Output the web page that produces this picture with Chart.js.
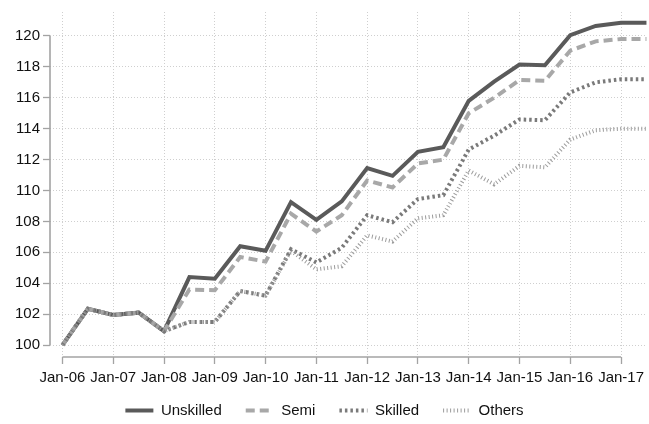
<!DOCTYPE html>
<html>
<head>
<meta charset="utf-8">
<script src="https://cdn.jsdelivr.net/npm/chart.js@4/dist/chart.umd.min.js"></script>
<style>
  html, body { margin: 0; padding: 0; background: #fff; }
  #wrap { width: 649px; height: 424px; position: relative; }
</style>
</head>
<body>
<div id="wrap"><canvas id="c"></canvas></div>
<script>
// Half-yearly observations, Jan-06 ... Jul-17
const periods = ["Jan-06","Jul-06","Jan-07","Jul-07","Jan-08","Jul-08","Jan-09","Jul-09","Jan-10","Jul-10","Jan-11","Jul-11","Jan-12","Jul-12","Jan-13","Jul-13","Jan-14","Jul-14","Jan-15","Jul-15","Jan-16","Jul-16","Jan-17","Jul-17"];
const unskilled = [100, 102.35, 101.95, 102.1, 100.9, 104.4, 104.3, 106.4, 106.1, 109.25, 108.1, 109.3, 111.45, 110.95, 112.5, 112.8, 115.8, 117.05, 118.15, 118.1, 120.05, 120.65, 120.85, 120.85];
const semi      = [100, 102.35, 101.95, 102.1, 100.9, 103.6, 103.55, 105.7, 105.4, 108.5, 107.35, 108.4, 110.65, 110.2, 111.75, 112.0, 115.0, 116.0, 117.15, 117.1, 119.05, 119.65, 119.8, 119.8];
const skilled   = [100, 102.35, 101.95, 102.1, 100.9, 101.5, 101.5, 103.5, 103.2, 106.2, 105.35, 106.3, 108.4, 107.95, 109.45, 109.7, 112.65, 113.55, 114.6, 114.55, 116.35, 117.0, 117.2, 117.2];
const others    = [100, 102.35, 101.95, 102.1, 100.9, 101.5, 101.5, 103.5, 103.2, 106.1, 104.9, 105.1, 107.1, 106.7, 108.2, 108.4, 111.3, 110.4, 111.6, 111.5, 113.3, 113.9, 114.0, 114.0];
const seriesNames = ["Unskilled", "Semi", "Skilled", "Others"];
const xTickLabels = ["Jan-06","Jan-07","Jan-08","Jan-09","Jan-10","Jan-11","Jan-12","Jan-13","Jan-14","Jan-15","Jan-16","Jan-17"];
const yTickValues = [100, 102, 104, 106, 108, 110, 112, 114, 116, 118, 120];

const xTickValues = xTickLabels.map(l => periods.indexOf(l));
const toPts = arr => arr.map((v, i) => ({x: i, y: v}));

const FONT = {family: "'Liberation Sans', Arial, sans-serif", size: 15};
const TXT = '#111';
const AXIS = '#a3a3a3';
const GRID = '#cfcfcf';

const axisLines = {
  id: 'axisLines',
  beforeDatasetsDraw(chart) {
    const {ctx, scales: {x, y}} = chart;
    ctx.save();
    ctx.strokeStyle = AXIS;
    ctx.lineWidth = 1.6;
    ctx.setLineDash([]);
    const ya = y.getPixelForValue(yTickValues[0]);
    const yb = y.getPixelForValue(yTickValues[yTickValues.length - 1]);
    ctx.beginPath();
    ctx.moveTo(x.left, ya); ctx.lineTo(x.left, yb);
    ctx.stroke();
    const xa = x.getPixelForValue(xTickValues[0]);
    const xb = x.getPixelForValue(xTickValues[xTickValues.length - 1]);
    ctx.beginPath();
    ctx.moveTo(xa, y.bottom); ctx.lineTo(xb, y.bottom);
    ctx.stroke();
    ctx.restore();
  }
};

const styles = [
  {color: '#5a5a5a', dash: [], order: 4},
  {color: '#a8a8a8', dash: [9, 5], order: 3},
  {color: '#7a7a7a', dash: [2.5, 3], order: 2},
  {color: '#9c9c9c', dash: [1, 2.5], order: 1}
];
const seriesData = [unskilled, semi, skilled, others];

new Chart(document.getElementById('c'), {
  type: 'line',
  data: {
    datasets: seriesData.map((d, i) => ({
      label: seriesNames[i],
      data: toPts(d),
      borderColor: styles[i].color,
      backgroundColor: styles[i].color,
      borderWidth: 4,
      borderDash: styles[i].dash,
      borderCapStyle: 'butt',
      borderJoinStyle: 'miter',
      pointRadius: 0,
      pointHoverRadius: 0,
      tension: 0,
      fill: false,
      order: styles[i].order,
      pointStyle: 'line'
    }))
  },
  options: {
    responsive: true,
    maintainAspectRatio: false,
    animation: false,
    devicePixelRatio: 1,
    layout: {padding: {top: 8, left: 0, right: 0, bottom: -4}},
    scales: {
      x: {
        type: 'linear',
        min: -0.49,
        max: 23.02,
        afterBuildTicks: s => { s.ticks = xTickValues.map(v => ({value: v})); },
        afterFit: s => { s.height = 22; s._computeLabelArea = () => undefined; },
        ticks: {
          autoSkip: false, maxRotation: 0, minRotation: 0,
          padding: 5, color: TXT, font: FONT,
          callback: v => xTickLabels[xTickValues.indexOf(v)]
        },
        grid: {
          display: true, drawOnChartArea: true, drawTicks: true,
          color: GRID, lineWidth: 1, tickLength: 7,
          tickColor: AXIS, tickWidth: 1.3, tickBorderDash: []
        },
        border: {display: false, dash: [1, 2]}
      },
      y: {
        min: 99.23,
        max: 121.55,
        afterBuildTicks: s => { s.ticks = yTickValues.map(v => ({value: v})); },
        afterFit: s => { s.width = 50; },
        ticks: {padding: 3, color: TXT, font: FONT, callback: v => String(v)},
        grid: {
          display: true, drawOnChartArea: true, drawTicks: true,
          color: GRID, lineWidth: 1, tickLength: 7,
          tickColor: AXIS, tickWidth: 1.3, tickBorderDash: []
        },
        border: {display: false, dash: [1, 2]}
      }
    },
    plugins: {
      legend: {
        display: true,
        position: 'bottom',
        labels: {
          usePointStyle: true,
          pointStyleWidth: 28,
          padding: 24,
          color: TXT,
          font: FONT,
          sort: (a, b) => a.datasetIndex - b.datasetIndex,
          generateLabels: chart => {
            const items = Chart.defaults.plugins.legend.labels.generateLabels(chart);
            items.forEach(it => {
              const ds = chart.data.datasets[it.datasetIndex];
              it.lineDash = ds.borderDash;
              it.lineDashOffset = 0;
              it.lineWidth = ds.borderWidth;
              it.strokeStyle = ds.borderColor;
              it.fillStyle = ds.borderColor;
              it.lineCap = 'butt';
              it.pointStyle = 'line';
            });
            return items;
          }
        }
      },
      tooltip: {enabled: false}
    }
  },
  plugins: [axisLines]
});
</script>
</body>
</html>
